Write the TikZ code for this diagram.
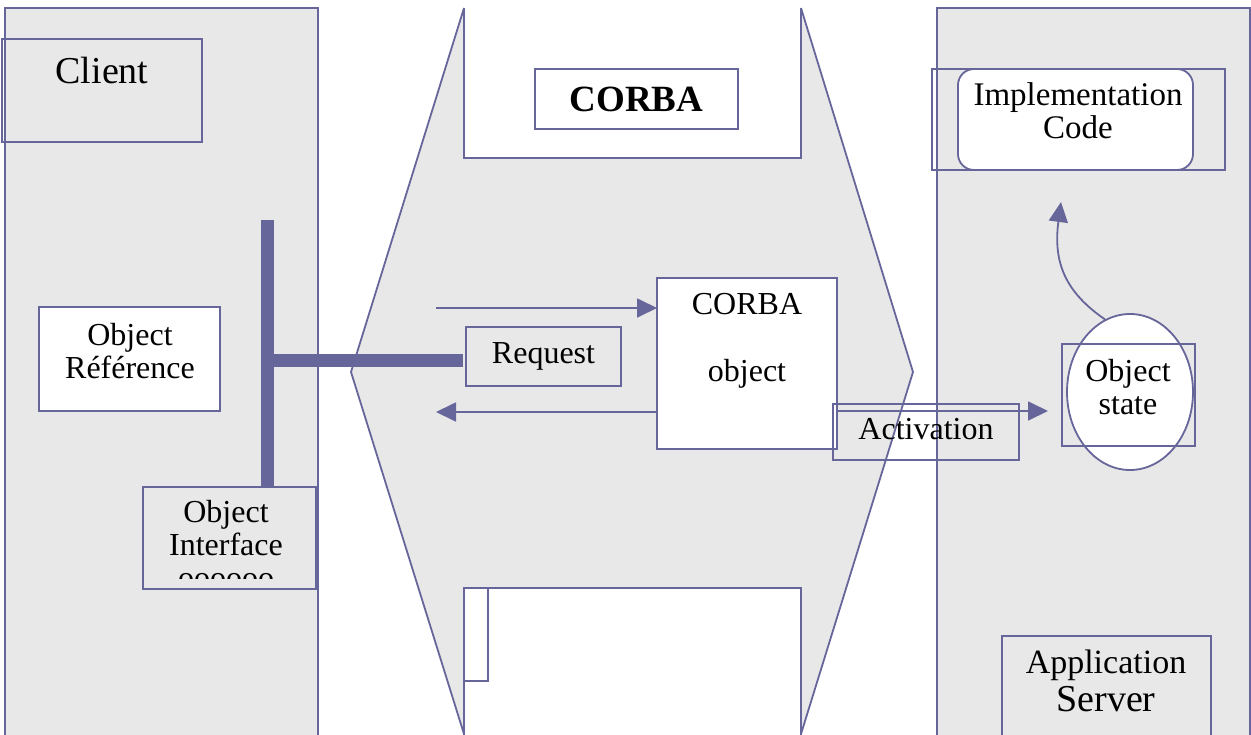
\documentclass[tikz,border=0pt]{standalone}
\usepackage{fontspec}
\setmainfont{Liberation Serif}
\usetikzlibrary{arrows.meta,shapes.geometric}
\definecolor{ln}{HTML}{66669A}
\definecolor{gr}{HTML}{E8E8E8}
\tikzset{
  panel/.style={fill=gr, draw=ln, line width=1.8pt},
  edge/.style={draw=ln, line width=1.8pt},
  bx/.style={draw=ln, line width=1.8pt, rectangle, inner sep=0pt, outer sep=0pt},
  txt/.style={align=center, inner sep=0pt, outer sep=0pt, font=\fontsize{32}{33}\selectfont},
  arr/.style={draw=ln, line width=1.8pt, -{Triangle[length=20pt,width=19pt]}},
  bar/.style={draw=ln, line width=13pt},
}
\begin{document}
\begin{tikzpicture}[x=1pt,y=-1pt]
\useasboundingbox (0,0) rectangle (1251,734);
\begin{scope}
\clip (0,0) rectangle (1251,734);
% panels
\path[panel] (5,8) rectangle (318,760);
\path[panel] (937,8) rectangle (1250,760);
% CORBA hexagon
\fill[gr] (464,8) -- (801,8) -- (913,372) -- (801,734) -- (464,734) -- (351,372) -- cycle;
\draw[edge] (464,8) -- (351,372) -- (464,734);
\draw[edge] (801,8) -- (913,372) -- (801,734);
\fill[white] (464,8) rectangle (801,158);
\draw[edge] (464,8) -- (464,158) -- (801,158) -- (801,8);
\fill[white] (464,588) rectangle (801,745);
\draw[edge] (464,745) -- (464,588) -- (801,588) -- (801,745);
\draw[edge] (464,588) rectangle (488,681);

% Client side
\node[bx, minimum width=200pt, minimum height=103pt] (client) at (102,90.5) {};
\node[txt, font=\fontsize{38}{38}\selectfont] (clientt) at (102,70) {Client};
\node[bx, fill=white, minimum width=181pt, minimum height=104pt] (ref) at (129.5,359) {};
\node[txt] (reft) at (130,351.5) {Object\\Référence};
\node[bx, minimum width=173pt, minimum height=102pt] (intf) at (229.5,538) {};
\begin{scope}
\clip (143,487) rectangle (316,578);
\node[txt] (intft) at (226,545) {Object\\Interface\\oooooo};
\end{scope}

% CORBA
\node[bx, fill=white, minimum width=203pt, minimum height=60pt, font=\bfseries\fontsize{37}{37}\selectfont] (corba) at (636.5,99) {CORBA};
\node[bx, minimum width=155pt, minimum height=59pt, font=\fontsize{32}{33}\selectfont] (req) at (543.5,356.5) {Request};
\node[bx, fill=white, minimum width=180pt, minimum height=171pt] (cobj) at (747,363.5) {};
\node[txt] (cobjt) at (747,340.5) {CORBA\\[34pt]object};

% bars
\coordinate (bartop) at (267,220);
\coordinate (barjoin) at (267,360.5);
\draw[bar] (bartop) -- (bartop |- intf.north);
\draw[bar, shorten >=3pt] (barjoin) -- (barjoin -| req.west);

% arrows
\coordinate (reqtail) at (436,308);
\coordinate (reptip) at (436,412);
\coordinate (acttip) at (1048,411);
\draw[arr] (reqtail) -- (reqtail -| cobj.west);
\draw[arr] (reptip -| cobj.west) -- (reptip);
\draw[arr] (acttip -| cobj.east) -- (acttip);
\node[bx, minimum width=186pt, minimum height=56pt] (act) at (926,432) {};
\node[txt] (actt) at (926,429) {Activation};

% Server side
\node[bx, minimum width=293pt, minimum height=101pt] (implo) at (1078.5,119.5) {};
\node[bx, fill=white, rounded corners=16pt, minimum width=235pt, minimum height=101pt] (impl) at (1075.5,119.5) {};
\node[txt, font=\fontsize{33}{33}\selectfont] (implt) at (1078,111) {Implementation\\Code};
\node[ellipse, draw=ln, line width=1.8pt, fill=white, minimum width=126pt, minimum height=156pt, inner sep=0pt] (st) at (1130,392) {};
\node[bx, minimum width=133pt, minimum height=102pt] (stbox) at (1128.5,395) {};
\node[txt] (stt) at (1128,387) {Object\\state};
\coordinate (imptip) at (1061,202);
\draw[arr] (st.109) .. controls (1065,292) and (1053,262) .. (imptip);
\node[bx, minimum width=209pt, minimum height=120pt] (app) at (1106.5,696) {};
\node[txt, anchor=base, font=\fontsize{34}{34}\selectfont] (appt1) at (1106,673) {Application};
\node[txt, anchor=base, font=\fontsize{38}{38}\selectfont] (appt2) at (1106,711) {Server};
\end{scope}
\end{tikzpicture}
\end{document}
